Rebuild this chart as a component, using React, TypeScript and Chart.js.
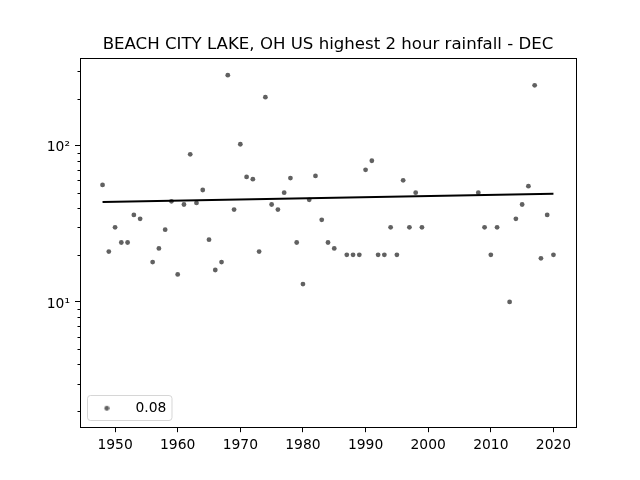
import React, { useEffect, useRef } from "react";
import { Chart, registerables } from "chart.js";

Chart.register(...registerables);

const years = [1948,1949,1950,1951,1952,1953,1954,1956,1957,1958,1959,1960,1961,1962,1963,1964,1965,1966,1967,1968,1969,1970,1971,1972,1973,1974,1975,1976,1977,1978,1979,1980,1981,1982,1983,1984,1985,1987,1988,1989,1990,1991,1992,1993,1994,1995,1996,1997,1998,1999,2008,2009,2010,2011,2013,2014,2015,2016,2017,2018,2019,2020];
const rainfall = [56,21,30,24,24,36,34,18,22,29,44,15,42,88,43,52,25,16,18,282,39,102,63,61,21,204,42,39,50,62,24,13,45,64,33.5,24,22,20,20,20,70,80,20,20,30,20,60,30,50,30,50,30,20,30,10,34,42,55,243,19,36,20];
const trendYears = [1948, 2020];
const trendValues = [43.5, 49.2];
const legendLabel = "0.08";
const titleText = "BEACH CITY LAKE, OH US highest 2 hour rainfall - DEC";
const xTickValues = [1950,1960,1970,1980,1990,2000,2010,2020];
const yMajorTicks = [10, 100];
const yMinorTicks = [2,3,4,5,6,7,8,9,20,30,40,50,60,70,80,90,200,300];
const yTickLabels: Record<number, string> = { 10: "10¹", 100: "10²" };

const FONT = "'DejaVu Sans'";
const DOT = "rgba(0,0,0,0.62)";

function makeLegendDot() {
  const c = document.createElement("canvas");
  c.width = 7;
  c.height = 7;
  const g = c.getContext("2d")!;
  g.fillStyle = DOT;
  g.beginPath();
  g.arc(4.3, 3.5, 2.4, 0, Math.PI * 2);
  g.fill();
  return c;
}

const framePlugin = {
  id: "frame",
  beforeDraw(chart: any) {
    chart.legend.bottom = chart.chartArea.bottom - 8.5;
  },
  afterDraw(chart: any) {
    const { ctx, chartArea: a } = chart;
    const l = Math.round(a.left) + 0.5;
    const r = Math.round(a.right) + 0.5;
    const t = Math.round(a.top) + 0.5;
    const b = Math.round(a.bottom) + 0.5;
    ctx.save();
    ctx.strokeStyle = "#000";
    ctx.lineWidth = 1;
    ctx.strokeRect(l, t, r - l, b - t);
    // minor log ticks are shorter than what the axis draws
    ctx.beginPath();
    yMinorTicks.forEach((v) => {
      const y = Math.round(chart.scales.y.getPixelForValue(v)) + 0.5;
      ctx.moveTo(l, y);
      ctx.lineTo(l - 3, y);
    });
    ctx.stroke();
    // legend frame
    ctx.strokeStyle = "rgba(204,204,204,0.8)";
    ctx.beginPath();
    ctx.roundRect(87.5, 395.5, 84.5, 25, 3);
    ctx.stroke();
    ctx.restore();
  },
};

export default function App() {
  const ref = useRef<HTMLCanvasElement>(null);
  useEffect(() => {
    document.body.style.margin = "0";
    const legendDot = makeLegendDot();
    const chart = new Chart(ref.current!, {
      type: "scatter",
      plugins: [framePlugin],
      data: {
        datasets: [
          {
            type: "line",
            label: "trend",
            data: trendYears.map((x, i) => ({ x, y: trendValues[i] })),
            borderColor: "#000",
            borderWidth: 2,
            pointRadius: 0,
            order: 0,
          },
          {
            type: "scatter",
            label: legendLabel,
            data: years.map((x, i) => ({ x, y: rainfall[i] })),
            backgroundColor: DOT,
            borderWidth: 0,
            pointRadius: 2.4,
            order: 1,
          },
        ],
      } as any,
      options: {
        responsive: false,
        animation: false,
        devicePixelRatio: 1,
        layout: { padding: { left: 0, right: 64, top: 0, bottom: 0 } },
        font: { family: FONT },
        scales: {
          x: {
            type: "linear",
            min: 1944.4,
            max: 2023.6,
            afterFit: (s: any) => { s.height = 52.8; },
            afterBuildTicks: (s: any) => { s.ticks = xTickValues.map((value) => ({ value })); },
            border: { display: false },
            grid: { drawOnChartArea: false, tickLength: 5, tickColor: "#000" },
            ticks: {
              autoSkip: false,
              maxRotation: 0,
              color: "#000",
              padding: 5,
              font: { family: FONT, size: 13.89 },
              callback: (v: any) => String(v),
            },
          },
          y: {
            type: "logarithmic",
            min: 1.58,
            max: 366,
            afterFit: (s: any) => { s.width = 80; },
            afterBuildTicks: (s: any) => {
              s.ticks = [...yMajorTicks, ...yMinorTicks].sort((a, b) => a - b).map((value) => ({ value }));
            },
            border: { display: false },
            grid: {
              drawOnChartArea: false,
              tickLength: 5,
              tickColor: (c: any) => (yMajorTicks.includes(c.tick?.value) ? "#000" : "transparent"),
            },
            ticks: {
              autoSkip: false,
              color: "#000",
              padding: 5,
              // a blank first line with this small line height lowers the label by half of it
              font: { family: FONT, size: 13.89, lineHeight: "4px" },
              callback: (v: any) => (yTickLabels[v] ? ["", yTickLabels[v]] : ""),
            },
          },
        },
        plugins: {
          title: {
            display: true,
            text: titleText,
            fullSize: false,
            color: "#000",
            font: { family: FONT, size: 16.6, weight: "normal", lineHeight: 1.2 },
            padding: { top: 35, bottom: 2.6 },
          },
          legend: {
            display: true,
            position: "chartArea",
            align: "end",
            labels: {
              color: "#000",
              font: { family: FONT, size: 13.89 },
              padding: 3.5,
              usePointStyle: true,
              pointStyleWidth: 45,
              filter: (item: any) => item.text === legendLabel,
              generateLabels: () => [
                { text: legendLabel, pointStyle: legendDot, fontColor: "#000", lineWidth: 0, hidden: false, datasetIndex: 1 },
              ],
            },
          },
          tooltip: { enabled: false },
        },
      } as any,
    });
    return () => chart.destroy();
  }, []);
  return <canvas ref={ref} width={640} height={480} style={{ display: "block" }} />;
}
